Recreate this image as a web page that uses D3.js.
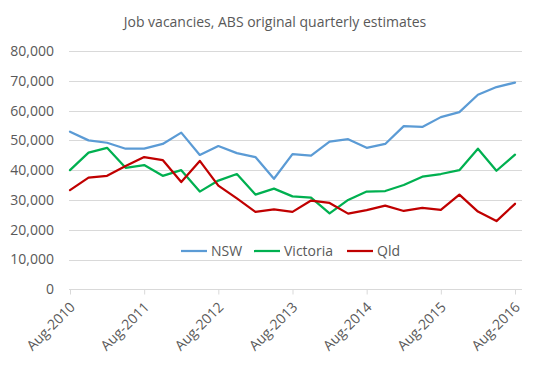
<!DOCTYPE html>
<html><head><meta charset="utf-8">
<script src="https://cdn.jsdelivr.net/npm/d3@7"></script>
<style>body{margin:0;background:#fff}svg{display:block}</style>
</head><body>
<script>
const quarters = ["Aug-2010","Nov-2010","Feb-2011","May-2011","Aug-2011","Nov-2011","Feb-2012","May-2012","Aug-2012","Nov-2012","Feb-2013","May-2013","Aug-2013","Nov-2013","Feb-2014","May-2014","Aug-2014","Nov-2014","Feb-2015","May-2015","Aug-2015","Nov-2015","Feb-2016","May-2016","Aug-2016"];
const nsw = [52900,50000,49200,47200,47200,48800,52600,45100,48100,45700,44400,37100,45400,44900,49600,50400,47500,48800,54800,54500,57800,59500,65300,67900,69400];
const victoria = [40000,45900,47500,40800,41700,38100,40000,32800,36500,38700,31800,33800,31200,30800,25500,30000,32800,33000,35000,37800,38700,40000,47200,39800,45200];
const qld = [33300,37500,38100,41400,44400,43400,36000,43100,34800,30500,26000,26800,26000,29800,29000,25400,26600,28100,26300,27300,26700,31800,26100,22900,28700];
const tickLabels = ["Aug-2010","Aug-2011","Aug-2012","Aug-2013","Aug-2014","Aug-2015","Aug-2016"];
const yTicks = [0,10000,20000,30000,40000,50000,60000,70000,80000];
const seriesNames = ["NSW","Victoria","Qld"];
const seriesColors = ["#5B9BD5","#00B050","#C00000"];
const title = "Job vacancies, ABS original quarterly estimates";

const W=546,H=367;
const svg=d3.select("body").append("svg").attr("width",W).attr("height",H);
const font="'Open Sans', sans-serif";
const x=d3.scalePoint().domain(quarters).range([70,515]);
const y=d3.scaleLinear().domain([0,80000]).range([289.3,51]);
const plotL=69,plotR=522;

svg.append("text").attr("x",275).attr("y",27).attr("text-anchor","middle")
  .style("font-family",font).style("font-size","14px").attr("fill","#595959").text(title);

// gridlines
svg.append("g").selectAll("line").data(yTicks.filter(d=>d>0)).join("line")
  .attr("x1",plotL).attr("x2",plotR).attr("y1",d=>Math.round(y(d))+0.5).attr("y2",d=>Math.round(y(d))+0.5)
  .attr("stroke","#D9D9D9").attr("stroke-width",1);

// y axis labels
const ya=svg.append("g").attr("transform",`translate(${54},0)`)
  .call(d3.axisLeft(y).tickValues(yTicks).tickSize(0).tickPadding(0).tickFormat(d3.format(",")));
ya.select(".domain").remove();
ya.selectAll("text").style("font-family",font).style("font-size","14px").attr("fill","#595959");

// x axis
const xa=svg.append("g").attr("transform",`translate(0,${Math.round(y(0))+0.5})`)
  .call(d3.axisBottom(x).tickValues(tickLabels).tickSize(5).tickSizeOuter(0));
xa.select(".domain").attr("d",`M${plotL},0H${plotR}`).attr("stroke","#D9D9D9");
xa.selectAll(".tick line").attr("stroke","#D9D9D9");
xa.selectAll("text").style("font-family",font).style("font-size","14px").attr("fill","#595959")
  .attr("text-anchor","end").attr("x",0).attr("y",0).attr("dy","0.35em").attr("transform","translate(2,15) rotate(-45)");

// lines
const data=[nsw,victoria,qld];
const line=d3.line().x((d,i)=>x(quarters[i])).y(d=>y(d));
svg.append("g").selectAll("path").data(data).join("path")
  .attr("d",line).attr("fill","none").attr("stroke",(d,i)=>seriesColors[i])
  .attr("stroke-width",2.25).attr("stroke-linejoin","round").attr("stroke-linecap","round");

// legend
const legX=[181,254,347];
const lg=svg.append("g").selectAll("g").data(seriesNames).join("g")
  .attr("transform",(d,i)=>`translate(${legX[i]},251)`);
lg.append("line").attr("x1",0).attr("x2",26).attr("stroke",(d,i)=>seriesColors[i]).attr("stroke-width",2.25);
lg.append("text").attr("x",30).attr("dy","0.35em").style("font-family",font).style("font-size","14px")
  .attr("fill","#595959").text(d=>d);
</script>
</body></html>
